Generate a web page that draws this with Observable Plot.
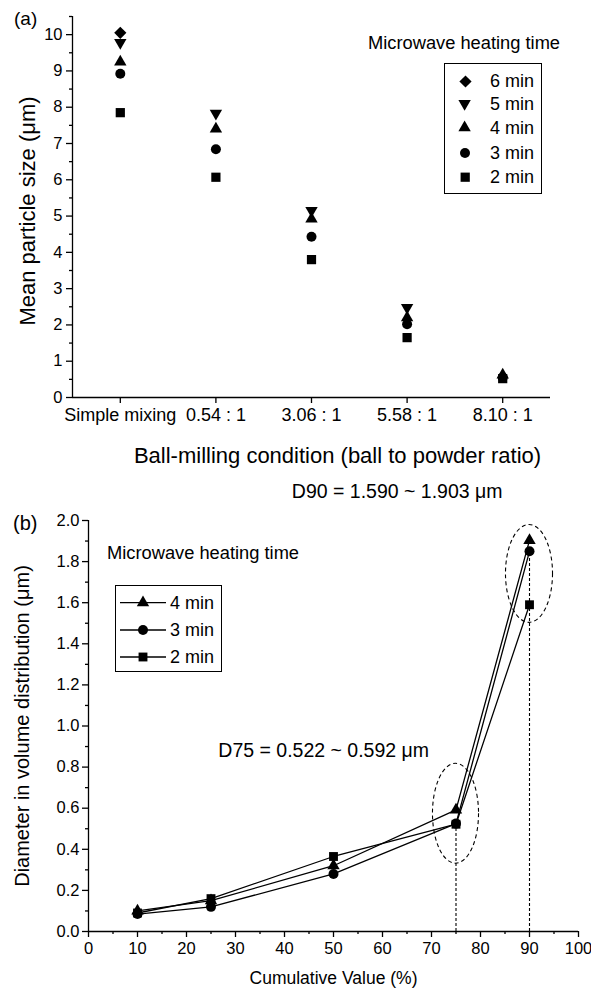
<!DOCTYPE html>
<html><head><meta charset="utf-8">
<script src="https://cdn.jsdelivr.net/npm/d3@7"></script>
<script src="https://cdn.jsdelivr.net/npm/@observablehq/plot@0.6"></script>
<style>
body{margin:0;background:#fff;font-family:"Liberation Sans",Arial,sans-serif;}
#wrap{position:relative;width:591px;height:996px;overflow:hidden;}
#wrap svg.plot{display:block;}
.ov{position:absolute;color:#000;white-space:nowrap;line-height:1;transform:translateY(-50%);}
.box{position:absolute;border:1px solid #000;background:#fff;box-sizing:border-box;}
</style></head><body><div id="wrap"></div>
<script>
// ---------- Panel (a) data ----------
const conditions = ["Simple mixing", "0.54 : 1", "3.06 : 1", "5.58 : 1", "8.10 : 1"];
const timesA = ["6 min", "5 min", "4 min", "3 min", "2 min"];
const size6min = [10.05, null, null, null, null];
const size5min = [9.78, 7.83, 5.15, 2.48, null];
const size4min = [9.25, 7.40, 4.92, 2.20, 0.62];
const size3min = [8.92, 6.84, 4.43, 2.02, 0.55];
const size2min = [7.85, 6.07, 3.80, 1.65, 0.52];
const yTicksA = [0, 1, 2, 3, 4, 5, 6, 7, 8, 9, 10];

// ---------- Panel (b) data ----------
const cumulative = [10, 25, 50, 75, 90];
const timesB = ["4 min", "3 min", "2 min"];
const diam4min = [0.100, 0.150, 0.320, 0.592, 1.903];
const diam3min = [0.085, 0.120, 0.280, 0.525, 1.850];
const diam2min = [0.090, 0.160, 0.365, 0.522, 1.590];
const xTicksB = [0, 10, 20, 30, 40, 50, 60, 70, 80, 90, 100];
const yTicksB = [0, 0.2, 0.4, 0.6, 0.8, 1.0, 1.2, 1.4, 1.6, 1.8, 2.0];
const annotations = [
  {text: "D90 = 1.590 ~ 1.903 \u03bcm", x: 63, y: 2.14},
  {text: "D75 = 0.522 ~ 0.592 \u03bcm", x: 48, y: 0.88}
];
const ellipses = [
  {x: 75, y: 0.573, rx: 4.7, ry: 0.243},
  {x: 90, y: 1.74, rx: 4.8, ry: 0.238}
];

// ---------- symbols ----------
const triangleUp = d3.symbolTriangle;
const triangleDown = {draw(ctx, size) {
  const y = -Math.sqrt(size / (Math.sqrt(3) * 3));
  ctx.moveTo(0, -y * 2); ctx.lineTo(-Math.sqrt(3) * y, y); ctx.lineTo(Math.sqrt(3) * y, y); ctx.closePath();
}};
const diamond = {draw(ctx, size) {
  const r = Math.sqrt(size) * 0.62625;
  ctx.moveTo(0, -r); ctx.lineTo(r, 0); ctx.lineTo(0, r); ctx.lineTo(-r, 0); ctx.closePath();
}};
const circle = d3.symbolCircle;
const square = d3.symbolSquare;

const seriesA = [
  {time: timesA[0], values: size6min, symbol: diamond, r: 5.5},
  {time: timesA[1], values: size5min, symbol: triangleDown, r: 4.6},
  {time: timesA[2], values: size4min, symbol: triangleUp, r: 4.6},
  {time: timesA[3], values: size3min, symbol: circle, r: 5},
  {time: timesA[4], values: size2min, symbol: square, r: 5.2}
];
const seriesB = [
  {time: timesB[0], values: diam4min, symbol: triangleUp, r: 4.6},
  {time: timesB[1], values: diam3min, symbol: circle, r: 5},
  {time: timesB[2], values: diam2min, symbol: square, r: 5}
];

const font = "Liberation Sans, Arial, Helvetica, sans-serif";
const wrap = document.getElementById("wrap");

// ---------- Panel (a) ----------
const xDomA = [0.5, 5.5], yDomA = [0, 10.5];
const rowsA = seriesA.map(s => s.values.map((v, i) => ({pos: i + 1, v, time: s.time})).filter(d => d.v != null));
const plotA = Plot.plot({
  width: 591, height: 470,
  marginLeft: 72, marginRight: 41, marginTop: 16, marginBottom: 73,
  style: {fontFamily: font, background: "white", color: "black", overflow: "visible"},
  x: {domain: xDomA},
  y: {domain: yDomA},
  marks: [
    Plot.axisY({ticks: yTicksA, tickSize: 6, tickPadding: 4, fontSize: 16.5, label: null, tickFormat: d => String(d), strokeWidth: 1.3}),
    Plot.axisY({ticks: d3.range(0.5, 10.6, 1), tickSize: 3, tickFormat: () => "", label: null, strokeWidth: 1.3}),
    Plot.axisX({ticks: [1, 2, 3, 4, 5], tickSize: 6, tickPadding: 5, fontSize: 18, label: null, tickFormat: i => conditions[i - 1], strokeWidth: 1.3}),
    Plot.ruleX([xDomA[0]], {stroke: "black", strokeWidth: 1.3}),
    Plot.ruleY([yDomA[0]], {stroke: "black", strokeWidth: 1.3}),
    ...seriesA.map((s, k) => Plot.dot(rowsA[k], {x: "pos", y: "v", symbol: s.symbol, r: s.r, fill: "black", stroke: "none"})),
    Plot.text(["Mean particle size (\u03bcm)"], {frameAnchor: "left", dx: -45, dy: 4, rotate: -90, textAnchor: "middle", lineAnchor: "middle", fontSize: 22, fill: "black"}),
    Plot.text(["Ball-milling condition (ball to powder ratio)"], {frameAnchor: "bottom", dx: 26, dy: 58, textAnchor: "middle", lineAnchor: "middle", fontSize: 22, fill: "black"})
  ]
});
wrap.appendChild(plotA);

// ---------- Panel (b) ----------
const xDomB = [0, 100], yDomB = [0, 2];
const rowsB = seriesB.flatMap(s => s.values.map((v, i) => ({x: cumulative[i], v, time: s.time})));
function ellipseMark(list) {
  return (index, scales) => {
    const g = document.createElementNS("http://www.w3.org/2000/svg", "g");
    for (const e of list) {
      const el = document.createElementNS("http://www.w3.org/2000/svg", "ellipse");
      const cx = scales.x(e.x), cy = scales.y(e.y);
      el.setAttribute("cx", cx); el.setAttribute("cy", cy);
      el.setAttribute("rx", Math.abs(scales.x(e.x + e.rx) - cx));
      el.setAttribute("ry", Math.abs(scales.y(e.y + e.ry) - cy));
      el.setAttribute("fill", "none"); el.setAttribute("stroke", "black");
      el.setAttribute("stroke-width", "1.1"); el.setAttribute("stroke-dasharray", "4,3");
      g.appendChild(el);
    }
    return g;
  };
}
const plotB = Plot.plot({
  width: 591, height: 526,
  marginLeft: 88, marginRight: 13, marginTop: 50, marginBottom: 65,
  style: {fontFamily: font, background: "white", color: "black", overflow: "visible"},
  x: {domain: xDomB},
  y: {domain: yDomB},
  marks: [
    Plot.axisY({ticks: yTicksB, tickSize: 6, tickPadding: 3, fontSize: 16.5, label: null, tickFormat: d3.format(".1f"), strokeWidth: 1.3}),
    Plot.axisY({ticks: d3.range(0.1, 2.0, 0.2), tickSize: 3, tickFormat: () => "", label: null, strokeWidth: 1.3}),
    Plot.axisX({ticks: xTicksB, tickSize: 6, tickPadding: 5, fontSize: 16.5, label: null, strokeWidth: 1.3}),
    Plot.axisX({ticks: d3.range(5, 100, 10), tickSize: 3, tickFormat: () => "", label: null, strokeWidth: 1.3}),
    Plot.ruleX([xDomB[0]], {stroke: "black", strokeWidth: 1.3}),
    Plot.ruleY([yDomB[0]], {stroke: "black", strokeWidth: 1.3}),
    Plot.ruleX([3, 4], {x: i => cumulative[i], y1: 0, y2: i => diam3min[i], stroke: "black", strokeWidth: 1.1, strokeDasharray: "3,2"}),
    Plot.line(rowsB, {x: "x", y: "v", z: "time", stroke: "black", strokeWidth: 1.3}),
    ...seriesB.map(s => Plot.dot(rowsB.filter(d => d.time === s.time), {x: "x", y: "v", symbol: s.symbol, r: s.r, fill: "black", stroke: "none"})),
    ellipseMark(ellipses),
    Plot.text(annotations, {x: "x", y: "y", text: "text", fontSize: 19.5, fill: "black"}),
    Plot.text(["Diameter in volume distribution (\u03bcm)"], {frameAnchor: "left", dx: -66, rotate: -90, textAnchor: "middle", lineAnchor: "middle", fontSize: 20, fill: "black"}),
    Plot.text(["Cumulative Value (%)"], {frameAnchor: "bottom", dy: 47, textAnchor: "middle", lineAnchor: "middle", fontSize: 17.5, fill: "black"})
  ]
});
wrap.appendChild(plotB);

// ---------- overlays: panel labels & legends ----------
function addText(txt, left, cy, size) {
  const d = document.createElement("div");
  d.className = "ov"; d.textContent = txt;
  d.style.left = left + "px"; d.style.top = cy + "px"; d.style.fontSize = size + "px";
  wrap.appendChild(d);
  return d;
}
function addBox(l, t, w, h) {
  const b = document.createElement("div");
  b.className = "box";
  Object.assign(b.style, {left: l + "px", top: t + "px", width: w + "px", height: h + "px"});
  wrap.appendChild(b);
}
function addSymbol(sym, r, cx, cy, lineHalf) {
  const w = lineHalf ? lineHalf * 2 + 2 : 2 * r + 6, h = 2 * r + 8;
  const svg = d3.create("svg").attr("width", w).attr("height", h)
    .style("position", "absolute").style("left", (cx - w / 2) + "px").style("top", (cy - h / 2) + "px");
  if (lineHalf) svg.append("line").attr("x1", 1).attr("x2", w - 1).attr("y1", h / 2).attr("y2", h / 2).attr("stroke", "black").attr("stroke-width", 1.3);
  svg.append("path").attr("d", d3.symbol(sym, Math.PI * r * r)()).attr("transform", `translate(${w / 2},${h / 2})`).attr("fill", "black");
  wrap.appendChild(svg.node());
}

addText("(a)", 14, 18, 19);
addText("Microwave heating time", 368, 43, 18.3);
addBox(444, 63, 98, 131);
const legYA = [81, 104, 128, 153, 177];
seriesA.forEach((s, i) => { addSymbol(s.symbol, s.r, 465, legYA[i]); addText(s.time, 490, legYA[i], 18); });

addText("(b)", 13, 523, 20);
addText("Microwave heating time", 107, 553, 18.3);
addBox(115, 585, 107, 87);
const legYB = [603, 630, 657];
seriesB.forEach((s, i) => { addSymbol(s.symbol, s.r, 142.5, legYB[i], 23); addText(s.time, 170, legYB[i], 18); });
</script></body></html>
